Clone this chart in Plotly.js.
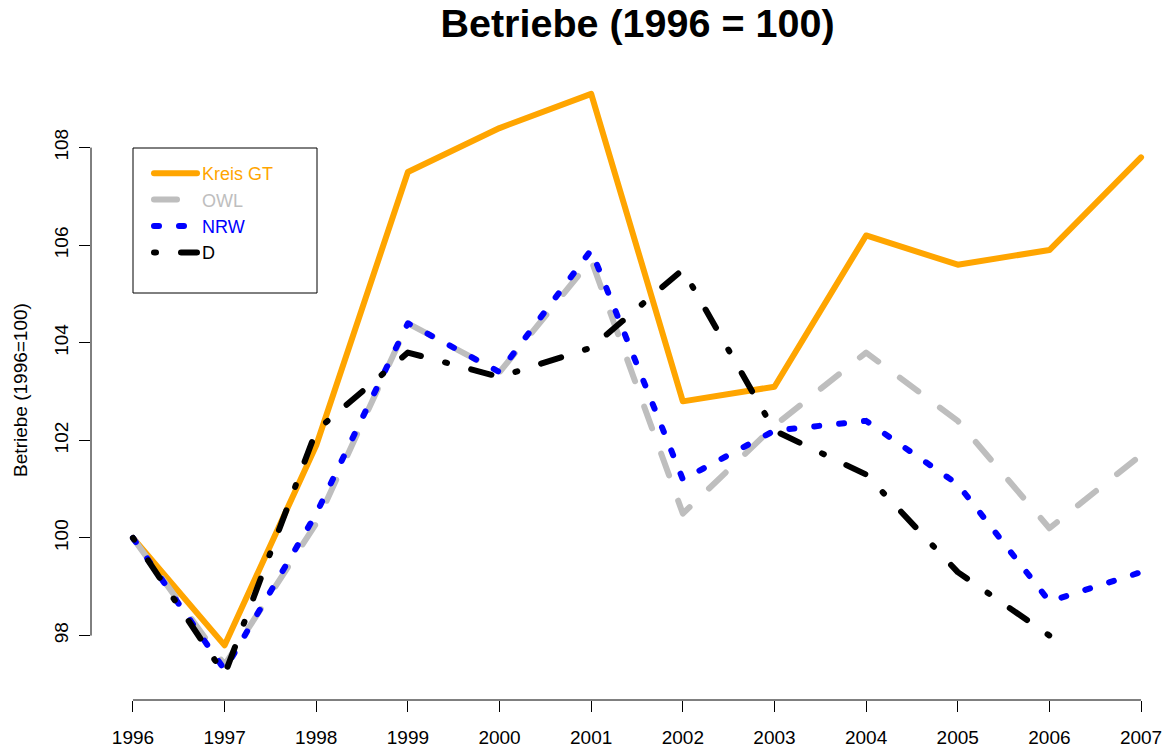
<!DOCTYPE html>
<html>
<head>
<meta charset="utf-8">
<script src="https://cdn.plot.ly/plotly-3.0.1.min.js"></script>
<style>
html, body { margin: 0; padding: 0; background: #fff; }
#chart { width: 1170px; height: 749px; }
.js-line { stroke-linecap: round !important; stroke-linejoin: round !important; }
</style>
</head>
<body>
<div id="chart"></div>
<script>
// Data
const years = [1996, 1997, 1998, 1999, 2000, 2001, 2002, 2003, 2004, 2005, 2006, 2007];
const kreisGT = [100, 97.8, 101.9, 107.5, 108.4, 109.1, 102.8, 103.1, 106.2, 105.6, 105.9, 107.8];
const owl = [100, 97.4, 100.3, 104.4, 103.4, 105.7, 100.5, 102.3, 103.8, 102.4, 100.2, 101.7];
const nrw = [100, 97.3, 100.5, 104.4, 103.4, 105.9, 101.2, 102.2, 102.4, 101.1, 98.7, 99.3];
const deutschland = [100, 97.2, 102.2, 103.8, 103.3, 103.9, 105.5, 102.2, 101.3, 99.3, 98.0, null];
const seriesNames = ["Kreis GT", "OWL", "NRW", "D"];
const yTicks = [98, 100, 102, 104, 106, 108];

const colors = ["#FFA500", "#BEBEBE", "#0000FF", "#000000"];
const dashes = ["solid", "23px,27px", "5px,20px", "2px,25px,21px,25px"];
const seriesData = [kreisGT, owl, nrw, deutschland];

const traces = seriesData.map((vals, i) => ({
  type: "scatter",
  mode: "lines",
  x: years,
  y: vals,
  name: '<span style="color:' + colors[i] + '">' + seriesNames[i] + '</span>',
  line: { color: colors[i], width: 6, dash: dashes[i] },
  connectgaps: false,
  hoverinfo: "x+y"
}));

const L = 91, T = 80, W = 1170, H = 749, B = 49, R = 0;
const pw = W - L - R, ph = H - T - B;
const px = v => (v - L) / pw;
const py = v => (H - B - v) / ph;

const layout = {
  width: W, height: H,
  margin: { l: L, r: R, t: T, b: B, pad: 0 },
  paper_bgcolor: "#fff",
  plot_bgcolor: "#fff",
  font: { family: "Liberation Sans, Arial, sans-serif", color: "#000" },
  title: {
    text: "<b>Betriebe (1996 = 100)</b>",
    font: { size: 39.5, family: "Liberation Sans, Arial, sans-serif", color: "#000" },
    xref: "container", yref: "container",
    x: 637.5 / W, xanchor: "center",
    y: 1 - 23 / H, yanchor: "middle"
  },
  xaxis: {
    range: [1995.542, 2007.316],
    tickvals: years,
    ticktext: years.map(String),
    ticks: "outside", ticklen: 11, tickwidth: 1, tickcolor: "#000",
    showgrid: false, zeroline: false, showline: false,
    tickfont: { size: 19, color: "#000" },
    ticklabelstandoff: 9,
    fixedrange: true
  },
  yaxis: {
    range: [96.68, 109.385],
    tickvals: yTicks,
    ticktext: yTicks.map(String),
    tickangle: -90,
    ticks: "outside", ticklen: 11, tickwidth: 1, tickcolor: "#000",
    showgrid: false, zeroline: false, showline: false,
    tickfont: { size: 19, color: "#000" },
    ticklabelstandoff: 3,
    title: { text: "Betriebe (1996=100)", font: { size: 19, color: "#000" }, standoff: 18 },
    fixedrange: true
  },
  showlegend: true,
  legend: {
    x: px(149), y: py(155), xanchor: "left", yanchor: "top",
    bgcolor: "rgba(0,0,0,0)", borderwidth: 0,
    font: { size: 18 },
    itemwidth: 43,
    tracegroupgap: 0
  },
  shapes: [
    { type: "line", xref: "x", yref: "paper", x0: years[0], x1: years[years.length - 1], y0: 0, y1: 0,
      line: { color: "#000", width: 1 } },
    { type: "line", xref: "paper", yref: "y", x0: 0, x1: 0, y0: yTicks[0], y1: yTicks[yTicks.length - 1],
      line: { color: "#000", width: 1 } },
    { type: "rect", xref: "paper", yref: "paper", x0: px(133), x1: px(317), y0: py(293), y1: py(148),
      line: { color: "#000", width: 1 }, fillcolor: "rgba(0,0,0,0)" }
  ]
};

Plotly.newPlot("chart", traces, layout, { displayModeBar: false, staticPlot: true });
</script>
</body>
</html>
